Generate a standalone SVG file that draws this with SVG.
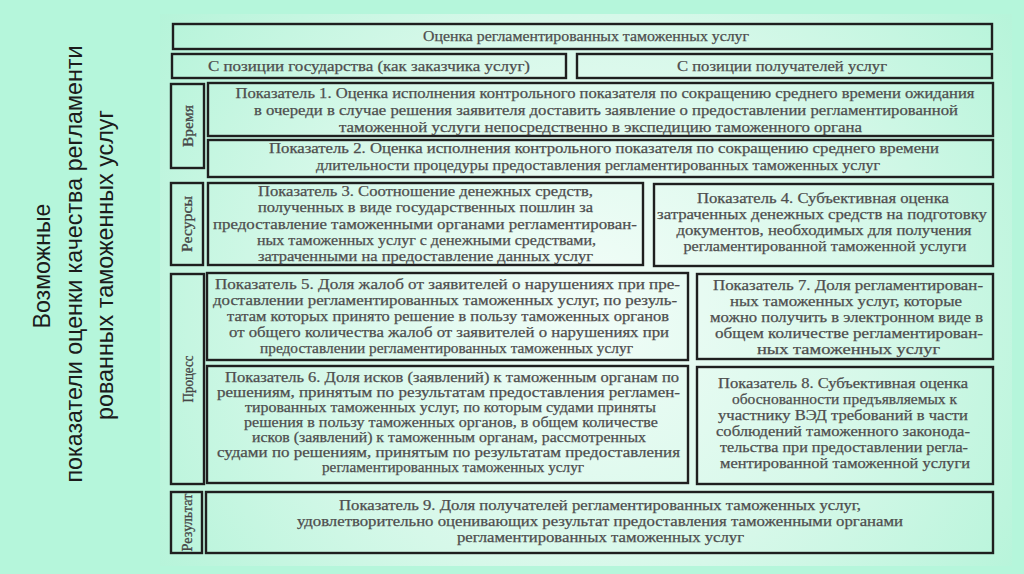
<svg xmlns="http://www.w3.org/2000/svg" width="1024" height="574" viewBox="0 0 1024 574">
<defs>
<radialGradient id="bg" cx="590" cy="300" r="520" gradientUnits="userSpaceOnUse">
<stop offset="0" stop-color="#f2fdf8"/>
<stop offset="0.55" stop-color="#d6f8e9"/>
<stop offset="1" stop-color="#b5f4d9"/>
</radialGradient>
<style>
.box{fill:none;stroke:#1f1f1f;stroke-width:2.4}
.t{font-family:"Liberation Serif","DejaVu Serif",serif;font-size:14.5px;fill:#4e4e4e;stroke:#4e4e4e;stroke-width:0.25;text-anchor:middle}
.lbl{font-family:"Liberation Serif","DejaVu Serif",serif;font-size:14px;fill:#474747;stroke:#474747;stroke-width:0.3;text-anchor:middle}
.title{font-family:"Liberation Sans","Arial",sans-serif;font-size:24px;fill:#1c1c1c;text-anchor:middle}
</style>
</defs>
<rect x="0" y="0" width="1024" height="574" fill="#b5f6db"/>
<rect x="160" y="14" width="852" height="552" fill="url(#bg)"/>

<g id="title">
<text class="title" transform="translate(50,266) rotate(-90)" x="0" y="0" textLength="125" lengthAdjust="spacingAndGlyphs">Возможные</text>
<text class="title" transform="translate(82,264) rotate(-90)" x="0" y="0" textLength="437" lengthAdjust="spacingAndGlyphs">показатели оценки качества регламенти</text>
<text class="title" transform="translate(113,265) rotate(-90)" x="0" y="0" textLength="310" lengthAdjust="spacingAndGlyphs">рованных таможенных услуг</text>
</g>

<g id="connectors"/>

<g id="header">
<rect class="box" x="173" y="24" width="819" height="25"/>
<text class="t" x="586" y="41" textLength="326" lengthAdjust="spacingAndGlyphs">Оценка регламентированных таможенных услуг</text>
</g>
<g id="state">
<rect class="box" x="172" y="54" width="394" height="24"/>
<text class="t" x="369" y="70.5" textLength="322" lengthAdjust="spacingAndGlyphs">С позиции государства (как заказчика услуг)</text>
</g>
<g id="recipients">
<rect class="box" x="577" y="54" width="415" height="24"/>
<text class="t" x="782" y="70.5" textLength="210" lengthAdjust="spacingAndGlyphs">С позиции получателей услуг</text>
</g>

<g id="label-time">
<rect class="box" x="171" y="84" width="33" height="84"/>
<text class="lbl" transform="translate(187.5,126) rotate(-90)" x="0" y="5" textLength="42" lengthAdjust="spacingAndGlyphs">Время</text>
</g>
<g id="label-resources">
<rect class="box" x="171" y="183" width="32" height="82"/>
<text class="lbl" transform="translate(187,224) rotate(-90)" x="0" y="5" textLength="56" lengthAdjust="spacingAndGlyphs">Ресурсы</text>
</g>
<g id="label-process">
<rect class="box" x="171" y="274" width="33" height="210"/>
<text class="lbl" transform="translate(187.5,379) rotate(-90)" x="0" y="5" textLength="47" lengthAdjust="spacingAndGlyphs">Процесс</text>
</g>
<g id="label-result">
<rect class="box" x="171" y="492" width="31" height="61"/>
<text class="lbl" transform="translate(186.5,522.5) rotate(-90)" x="0" y="5" textLength="58" lengthAdjust="spacingAndGlyphs">Результат</text>
</g>

<g id="ind1">
<rect class="box" x="208" y="83" width="785" height="53"/>
<text class="t" x="605" y="97.5" textLength="739" lengthAdjust="spacingAndGlyphs">Показатель 1. Оценка исполнения контрольного показателя по сокращению среднего времени ожидания</text>
<text class="t" x="606" y="114.5" textLength="704" lengthAdjust="spacingAndGlyphs">в очереди в случае решения заявителя доставить заявление о предоставлении регламентированной</text>
<text class="t" x="600.5" y="131.5" textLength="523" lengthAdjust="spacingAndGlyphs">таможенной услуги непосредственно в экспедицию таможенного органа</text>
</g>
<g id="ind2">
<rect class="box" x="208" y="140" width="785" height="37"/>
<text class="t" x="604" y="153" textLength="670" lengthAdjust="spacingAndGlyphs">Показатель 2. Оценка исполнения контрольного показателя по сокращению среднего времени</text>
<text class="t" x="598" y="170" textLength="564" lengthAdjust="spacingAndGlyphs">длительности процедуры предоставления регламентированных таможенных услуг</text>
</g>
<g id="ind3">
<rect class="box" x="208" y="183" width="435" height="82"/>
<text class="t" x="425.5" y="195.5" textLength="335" lengthAdjust="spacingAndGlyphs">Показатель 3. Соотношение денежных средств,</text>
<text class="t" x="425.5" y="212" textLength="335" lengthAdjust="spacingAndGlyphs">полученных в виде государственных пошлин за</text>
<text class="t" x="425" y="228.5" textLength="424" lengthAdjust="spacingAndGlyphs">предоставление таможенными органами регламентирован-</text>
<text class="t" x="426.5" y="244.5" textLength="339" lengthAdjust="spacingAndGlyphs">ных таможенных услуг с денежными средствами,</text>
<text class="t" x="425.5" y="260.5" textLength="335" lengthAdjust="spacingAndGlyphs">затраченными на предоставление данных услуг</text>
</g>
<g id="ind4">
<rect class="box" x="654" y="184" width="339" height="82"/>
<text class="t" x="823" y="202.5" textLength="252" lengthAdjust="spacingAndGlyphs">Показатель 4. Субъективная оценка</text>
<text class="t" x="822" y="218.5" textLength="330" lengthAdjust="spacingAndGlyphs">затраченных денежных средств на подготовку</text>
<text class="t" x="824" y="234.5" textLength="295" lengthAdjust="spacingAndGlyphs">документов, необходимых для получения</text>
<text class="t" x="825" y="250.5" textLength="283" lengthAdjust="spacingAndGlyphs">регламентированной таможенной услуги</text>
</g>
<g id="ind5">
<rect class="box" x="207" y="273" width="481" height="87"/>
<text class="t" x="447.5" y="288.5" textLength="465" lengthAdjust="spacingAndGlyphs">Показатель 5. Доля жалоб от заявителей о нарушениях при пре-</text>
<text class="t" x="445" y="304.5" textLength="464" lengthAdjust="spacingAndGlyphs">доставлении регламентированных таможенных услуг, по резуль-</text>
<text class="t" x="448" y="320.5" textLength="442" lengthAdjust="spacingAndGlyphs">татам которых принято решение в пользу таможенных органов</text>
<text class="t" x="449" y="336.5" textLength="440" lengthAdjust="spacingAndGlyphs">от общего количества жалоб от заявителей о нарушениях при</text>
<text class="t" x="446.5" y="352.5" textLength="373" lengthAdjust="spacingAndGlyphs">предоставлении регламентированных таможенных услуг</text>
</g>
<g id="ind7">
<rect class="box" x="697" y="274" width="296" height="85"/>
<text class="t" x="848" y="289.5" textLength="270" lengthAdjust="spacingAndGlyphs">Показатель 7. Доля регламентирован-</text>
<text class="t" x="846" y="305.5" textLength="232" lengthAdjust="spacingAndGlyphs">ных таможенных услуг, которые</text>
<text class="t" x="846.5" y="321.5" textLength="273" lengthAdjust="spacingAndGlyphs">можно получить в электронном виде в</text>
<text class="t" x="849" y="337.5" textLength="268" lengthAdjust="spacingAndGlyphs">общем количестве регламентирован-</text>
<text class="t" x="848.5" y="353.5" textLength="183" lengthAdjust="spacingAndGlyphs">ных таможенных услуг</text>
</g>
<g id="ind6">
<rect class="box" x="207" y="366" width="481" height="117"/>
<text class="t" x="452" y="381.5" textLength="454" lengthAdjust="spacingAndGlyphs">Показатель 6. Доля исков (заявлений) к таможенным органам по</text>
<text class="t" x="448.5" y="396.5" textLength="463" lengthAdjust="spacingAndGlyphs">решениям, принятым по результатам предоставления регламен-</text>
<text class="t" x="450.5" y="411.5" textLength="411" lengthAdjust="spacingAndGlyphs">тированных таможенных услуг, по которым судами приняты</text>
<text class="t" x="451" y="426.5" textLength="414" lengthAdjust="spacingAndGlyphs">решения в пользу таможенных органов, в общем количестве</text>
<text class="t" x="449" y="441.5" textLength="394" lengthAdjust="spacingAndGlyphs">исков (заявлений) к таможенным органам, рассмотренных</text>
<text class="t" x="448.5" y="456.5" textLength="463" lengthAdjust="spacingAndGlyphs">судами по решениям, принятым по результатам предоставления</text>
<text class="t" x="453" y="471.5" textLength="262" lengthAdjust="spacingAndGlyphs">регламентированных таможенных услуг</text>
</g>
<g id="ind8">
<rect class="box" x="697" y="367" width="296" height="117"/>
<text class="t" x="843" y="387.5" textLength="250" lengthAdjust="spacingAndGlyphs">Показатель 8. Субъективная оценка</text>
<text class="t" x="844.5" y="403.5" textLength="225" lengthAdjust="spacingAndGlyphs">обоснованности предъявляемых к</text>
<text class="t" x="843" y="419.5" textLength="250" lengthAdjust="spacingAndGlyphs">участнику ВЭД требований в части</text>
<text class="t" x="843" y="435.5" textLength="254" lengthAdjust="spacingAndGlyphs">соблюдений таможенного законода-</text>
<text class="t" x="844" y="451.5" textLength="248" lengthAdjust="spacingAndGlyphs">тельства при предоставлении регла-</text>
<text class="t" x="845" y="467.5" textLength="250" lengthAdjust="spacingAndGlyphs">ментированной таможенной услуги</text>
</g>
<g id="ind9">
<rect class="box" x="206" y="492" width="787" height="61"/>
<text class="t" x="600" y="509.5" textLength="522" lengthAdjust="spacingAndGlyphs">Показатель 9. Доля получателей регламентированных таможенных услуг,</text>
<text class="t" x="600" y="525.5" textLength="606" lengthAdjust="spacingAndGlyphs">удовлетворительно оценивающих результат предоставления таможенными органами</text>
<text class="t" x="600.5" y="541.5" textLength="287" lengthAdjust="spacingAndGlyphs">регламентированных таможенных услуг</text>
</g>
</svg>
